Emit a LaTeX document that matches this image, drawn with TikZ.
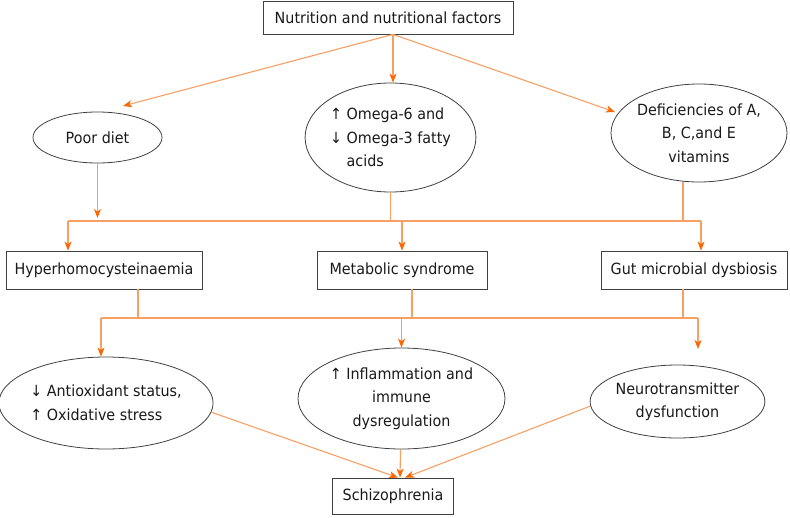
\documentclass[tikz,border=0pt]{standalone}
\usepackage{fontspec}
\setmainfont{DejaVu Sans}[FakeStretch=0.93]
\usetikzlibrary{shapes.geometric, arrows.meta}

\definecolor{linkcol}{RGB}{248,160,100}
\definecolor{tipcol}{RGB}{255,102,0}
\definecolor{boxcol}{RGB}{64,64,64}
\definecolor{textcol}{RGB}{25,25,25}

\begin{document}
\begin{tikzpicture}
		[
			x=1pt, y=-1pt,
			every node/.style={font=\fontsize{15.4}{23.5}\selectfont, text=textcol},
			box/.style={rectangle, draw=boxcol, line width=0.8pt, inner sep=0pt},
			oval/.style={ellipse, draw=boxcol, line width=0.8pt, inner sep=0pt, align=center},
			leftoval/.style={oval, align=left},
			link/.style={draw=linkcol, line width=1.1pt},
			arr/.style={link, -{Stealth[length=9pt, width=7pt, inset=2.5pt, color=tipcol]}},
		]

		\useasboundingbox (0,0) rectangle (790,517);

		% Nodes
		\foreach \style/\name/\x/\y/\w/\h/\txt in
		{
			box/top/388/17.5/250/33/{Nutrition and nutritional factors},
			oval/poor/97.5/137.5/129/51/{Poor diet},
			leftoval/omega/390.5/137.5/167/109/{↑ Omega-6 and\\↓ Omega-3 fatty\\\hphantom{↓ }acids},
			oval/defic/699/133/176/98/{Deficiencies of A,\\B, C,and E\\vitamins},
			box/hyper/104/270/196/38/{Hyperhomocysteinaemia},
			box/metab/402/270/170/38/{Metabolic syndrome},
			box/gut/694/270/186/38/{Gut microbial dysbiosis},
			leftoval/anti/106/403/212/92/{↓ Antioxidant status,\\↑ Oxidative stress},
			oval/infl/401.5/398.5/207/101/{↑ Inflammation and\\immune\\dysregulation},
			oval/neuro/677.5/401.5/171/73/{Neurotransmitter\\dysfunction},
			box/schiz/393/496/121/36/{Schizophrenia}}
			\node[\style, minimum width=\w pt, minimum height=\h pt] (\name) at (\x,\y) {\txt};

		% Bus points
		\coordinate (t0) at ([xshift=5pt]top.south);
		\coordinate (ta) at (123,106);
		\coordinate (tb) at (t0 |- omega.north);
		\coordinate (tc) at (615,112);
		\coordinate (ua) at (68,221);
		\coordinate (ub) at (701,221);
		\coordinate (uc) at (683,221);
		\coordinate (va) at (101,318);
		\coordinate (vb) at (698,318);
		\coordinate (vh) at (138,318);
		\coordinate (vm) at (412,318);
		\coordinate (vg) at (683,318);
		\coordinate (wc) at (698,349);
		\coordinate (sa) at ([xshift=5pt]schiz.north);
		\coordinate (sb) at ([xshift=7pt]schiz.north);
		\coordinate (sc) at ([xshift=12pt]schiz.north);

		% Lines
		\foreach \u/\v in
		{
			ua/ub,
			omega/{omega |- ua},
			{uc |- defic.south}/uc,
			va/vb,
			{hyper.south -| vh}/vh,
			{metab.south -| vm}/vm,
			{gut.south -| vg}/vg}
			\draw[link] (\u) -- (\v);

		% Arrows
		\foreach \u/\v in
		{
			t0/ta,
			t0/tb,
			t0/tc,
			ua/{ua |- hyper.north},
			{metab |- ua}/metab,
			ub/{ub |- gut.north},
			va/{va |- anti.north},
			{infl |- va}/infl,
			vb/wc,
			anti.-5/sa,
			infl/sb,
			neuro.183/sc}
			\draw[arr] (\u) -- (\v);

		\draw[arr, shorten >=3pt] (poor) -- (poor |- ua);

		\end{tikzpicture}
\end{document}
